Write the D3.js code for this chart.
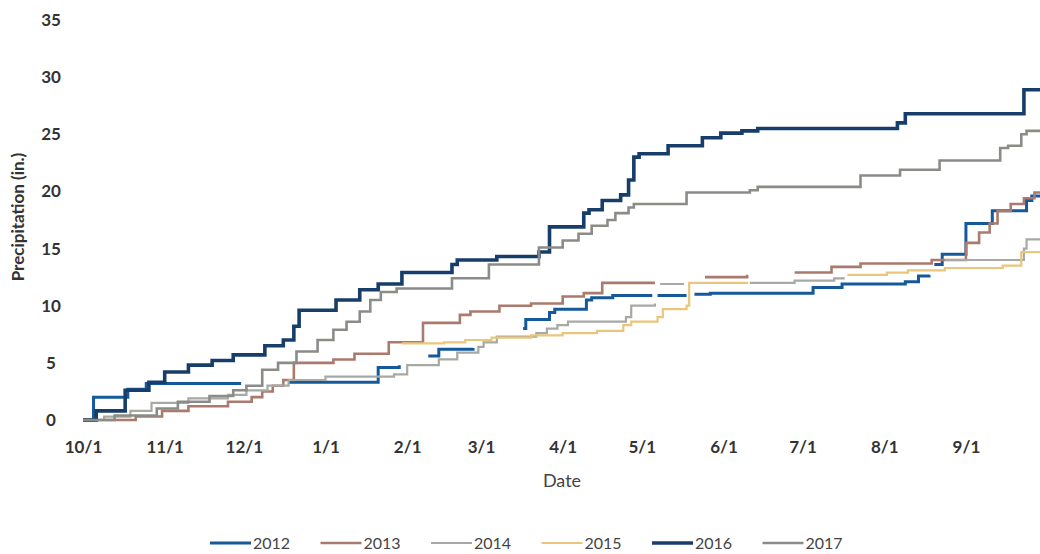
<!DOCTYPE html>
<html>
<head>
<meta charset="utf-8">
<script src="https://cdn.jsdelivr.net/npm/d3@7"></script>
<style>
body { margin: 0; background: #fff; }
svg text { font-family: Lato, 'Open Sans', sans-serif; }
</style>
</head>
<body>
<svg width="1040" height="554"></svg>
<script>
// [days since Oct 1, cumulative precip in.]  null = hole in the record
const s2012 = [[0,0],[4,2.0],[17,2.7],[24,3.2],[60,3.2],[61,null],[78,3.3],[112,4.6],[120,4.8],[121,null],[131,5.6],[135,6.2],[148,6.3],[149,null],[167,8.0],[168,8.8],[177,9.4],[179,9.7],[191,10.5],[193,10.7],[201,10.9],[216,10.9],[217,null],[218,10.9],[229,10.9],[230,null],[232,11.0],[238,11.1],[277,11.6],[288,11.9],[312,12.1],[317,12.6],[321,12.7],[322,null],[323,13.6],[326,14.5],[335,17.2],[345,18.3],[358,19.2],[360,19.6],[365,19.7]];
const s2013 = [[0,0],[20,0.3],[30,0.8],[40,1.2],[55,1.6],[64,2.0],[68,2.5],[72,3.0],[76,3.5],[80,5.0],[95,5.3],[103,5.8],[116,6.8],[129,8.5],[143,9.2],[147,9.5],[158,10.0],[170,10.2],[182,10.8],[190,11.1],[197,12.0],[217,12.0],[218,null],[236,12.5],[252,12.7],[253,null],[270,12.9],[284,13.4],[295,13.7],[322,14.0],[335,15.5],[340,16.4],[344,17.2],[347,18.3],[352,18.9],[357,19.4],[361,19.9],[365,20.0]];
const s2014 = [[0,0],[8,0.3],[18,0.8],[26,1.5],[40,1.9],[55,2.2],[62,2.6],[70,3.0],[78,3.5],[92,3.8],[118,4.0],[123,4.8],[135,5.3],[142,5.9],[150,6.4],[152,6.8],[157,7.3],[172,7.6],[176,8.0],[180,8.3],[184,8.6],[202,8.6],[206,9.0],[208,10.0],[217,10.2],[218,null],[219,11.9],[228,11.9],[229,null],[253,12.0],[270,12.2],[285,12.4],[289,12.4],[290,null],[327,14.0],[355,14.0],[357,15.0],[358,15.8],[365,16.4]];
// record picks up in early Feb
const s2015 = [[121,6.7],[137,6.8],[145,7.0],[155,7.2],[170,7.4],[182,7.6],[195,7.8],[205,8.3],[208,8.6],[218,9.0],[220,9.7],[229,10.0],[230,12.0],[252,12.1],[253,null],[290,12.7],[305,12.9],[313,13.1],[327,13.3],[349,13.5],[356,14.7],[365,14.8]];
const s2016 = [[0,0],[5,0.8],[16,2.6],[25,3.3],[31,4.2],[40,4.8],[49,5.2],[57,5.7],[69,6.5],[76,7.0],[80,8.2],[82,9.6],[96,10.5],[105,11.4],[112,11.9],[121,12.9],[140,13.6],[142,14.0],[157,14.3],[173,14.7],[177,16.9],[190,18.1],[192,18.4],[197,19.2],[204,19.7],[207,21.0],[209,23.0],[211,23.3],[222,24.0],[235,24.7],[242,25.1],[250,25.3],[256,25.5],[309,26.0],[312,26.8],[357,28.9],[365,28.9]];
const s2017 = [[0,0],[12,0.4],[28,1.0],[36,1.6],[48,2.1],[57,2.6],[62,3.0],[68,4.4],[74,5.0],[81,6.0],[89,7.0],[95,7.9],[100,8.6],[105,9.5],[109,10.5],[113,11.2],[119,11.5],[140,12.4],[154,13.6],[173,15.1],[182,15.7],[188,16.3],[193,17.0],[199,17.5],[202,18.1],[207,18.6],[209,18.9],[229,19.9],[253,20.1],[256,20.4],[295,21.4],[310,21.9],[325,22.7],[348,23.8],[351,24.0],[356,25.0],[358,25.3],[365,25.3]];

const years = ["2012", "2013", "2014", "2015", "2016", "2017"];
const series = [s2012, s2013, s2014, s2015, s2016, s2017];
const yTicks = [0, 5, 10, 15, 20, 25, 30, 35];

// look of each year's line
const colors = ["#15599a", "#a97a6d", "#a7a9a5", "#e9c67b", "#173e6b", "#8a8c88"];
const widths = [3, 2.6, 2.2, 2.2, 3.6, 2.6];

const svg = d3.select("svg");
const start = new Date(2018, 9, 1), end = new Date(2019, 9, 1);

const x = d3.scaleTime().domain([start, end]).range([83, 1045]);
const y = d3.scaleLinear().domain([0, 35]).range([420, 20]);

const line = d3.line()
  .defined(d => d[1] != null)
  .x(d => x(d3.timeDay.offset(start, d[0])))
  .y(d => y(d[1]))
  .curve(d3.curveStepAfter);

// axes (labels only)
const xAxis = svg.append("g")
  .attr("transform", "translate(0,438)")
  .call(d3.axisBottom(x).tickValues(d3.timeMonth.range(start, end))
    .tickFormat(d3.timeFormat("%-m/%-d")).tickSize(0));
xAxis.select(".domain").remove();
xAxis.selectAll("text").attr("font-size", 17).attr("font-weight", "bold")
  .attr("fill", "#333").attr("font-family", null);

const yAxis = svg.append("g")
  .attr("transform", "translate(60,0)")
  .call(d3.axisLeft(y).tickValues(yTicks).tickSize(0));
yAxis.select(".domain").remove();
yAxis.selectAll("text").attr("font-size", 17).attr("font-weight", "bold")
  .attr("fill", "#333").attr("font-family", null).attr("text-anchor", "middle").attr("x", -9);

svg.append("text")
  .attr("x", 562).attr("y", 487)
  .attr("text-anchor", "middle")
  .attr("font-size", 18).attr("fill", "#444")
  .text("Date");

svg.append("text")
  .attr("transform", "translate(24,217) rotate(-90)")
  .attr("text-anchor", "middle")
  .attr("font-size", 17).attr("font-weight", "bold").attr("fill", "#333")
  .text("Precipitation (in.)");

// the lines
svg.append("g").selectAll("path")
  .data(series)
  .enter().append("path")
  .attr("d", d => line(d))
  .attr("fill", "none")
  .attr("stroke", (d, i) => colors[i])
  .attr("stroke-width", (d, i) => widths[i]);

// legend
const legend = svg.append("g").selectAll("g")
  .data(years)
  .enter().append("g")
  .attr("transform", (d, i) => `translate(${210 + i * 110.5},543)`);

legend.append("line")
  .attr("x1", 0).attr("x2", 41)
  .attr("stroke", (d, i) => colors[i])
  .attr("stroke-width", (d, i) => widths[i]);

legend.append("text")
  .attr("x", 43).attr("dy", "0.35em")
  .attr("font-size", 16).attr("fill", "#444")
  .text(d => d);
</script>
</body>
</html>
